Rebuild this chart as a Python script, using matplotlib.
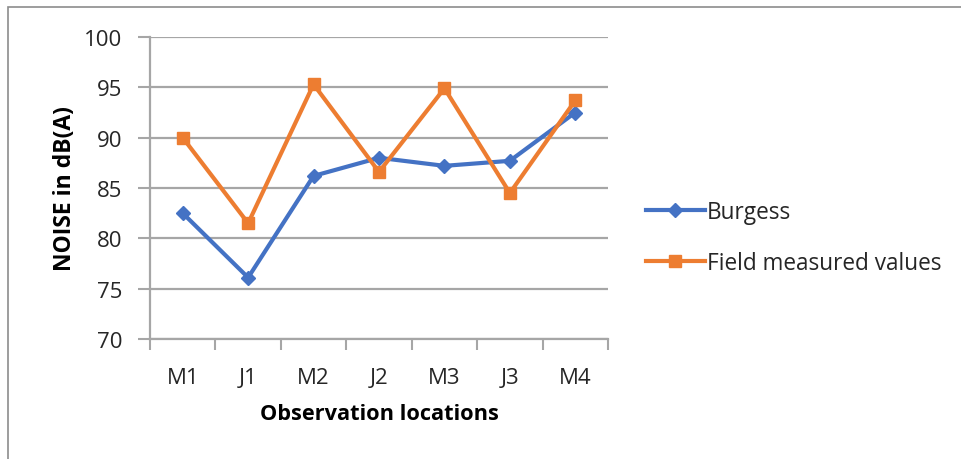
import matplotlib
matplotlib.use("Agg")
import matplotlib.pyplot as plt
from matplotlib.patches import Rectangle

categories = ["M1", "J1", "M2", "J2", "M3", "J3", "M4"]
burgess = [82.5, 76.1, 86.2, 88.0, 87.2, 87.7, 92.5]
field = [90.0, 81.5, 95.3, 86.6, 94.9, 84.5, 93.7]
yticks = [70, 75, 80, 85, 90, 95, 100]

plt.rcParams['font.family'] = ['Open Sans', 'DejaVu Sans']

W, H = 962, 460
fig = plt.figure(figsize=(W / 100, H / 100), dpi=100)
ax = fig.add_axes([150 / W, 1 - 340 / H, (608 - 150) / W, (340 - 38) / H])

grid_c = "#a6a6a6"
text_c = "#262626"
x = list(range(len(categories)))
ax.plot(x, burgess, color="#4472C4", lw=3, marker="D", ms=7, label="Burgess", zorder=3)
ax.plot(x, field, color="#ED7D31", lw=3, marker="s", ms=9, label="Field measured values", zorder=4)

ax.set_ylim(70, 100)
ax.set_xlim(-0.5, len(categories) - 0.5)
ax.set_yticks(yticks)
ax.set_yticklabels([str(v) for v in yticks], fontsize=16, color=text_c)
ax.set_xticks(x)
ax.set_xticklabels(categories, fontsize=16, color=text_c)
ax.tick_params(axis="x", which="major", length=0, pad=20)
ax.set_xticks([i - 0.5 for i in range(len(categories) + 1)], minor=True)
ax.tick_params(axis="x", which="minor", length=8, width=1.5, color=grid_c)
ax.tick_params(axis="y", length=9, width=1.5, color=grid_c, pad=11)
ax.yaxis.grid(True, color=grid_c, lw=1.6)
ax.set_axisbelow(True)
for s in ["top", "right"]:
    ax.spines[s].set_visible(False)
for s in ["left", "bottom"]:
    ax.spines[s].set_color(grid_c)
    ax.spines[s].set_linewidth(1.6)

ax.set_ylabel("NOISE in dB(A)", fontsize=16.5, fontweight="bold", labelpad=5, color="black")
ax.set_xlabel("Observation locations", fontsize=15.7, fontweight="bold", labelpad=11, color="black")

leg = ax.legend(loc="center left", bbox_to_anchor=(1.038, 0.335), frameon=False,
                fontsize=16.3, handlelength=2.6, labelspacing=1.2, handletextpad=0.1,
                labelcolor=text_c)

fig.patches.append(Rectangle((8 / W, -0.1), 1.2, 1 - 8 / H + 0.1, transform=fig.transFigure,
                             fill=False, edgecolor="#8c8c8c", lw=1.2))

fig.savefig("out.png", dpi=100)
